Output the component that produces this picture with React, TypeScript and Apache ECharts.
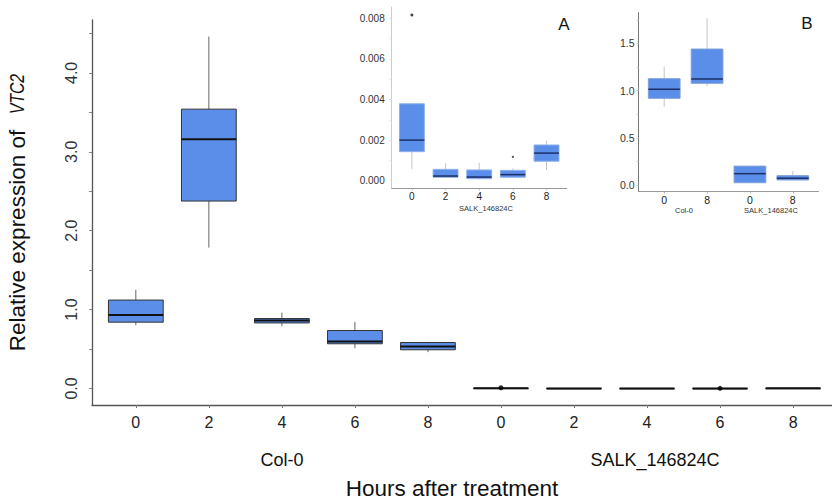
import React, { useEffect, useRef } from "react";
import * as echarts from "echarts";

// ---------- data ----------
const mainHours = ["0", "2", "4", "6", "8", "0", "2", "4", "6", "8"];
const groupLabels = ["Col-0", "SALK_146824C"];
// each box: [lowWhisker, q1, median, q3, highWhisker]
const col0Boxes = [
  [0.8, 0.84, 0.93, 1.12, 1.25],
  [1.785, 2.375, 3.16, 3.54, 4.46],
  [0.79, 0.83, 0.86, 0.886, 0.96],
  [0.51, 0.566, 0.595, 0.734, 0.844],
  [0.46, 0.49, 0.532, 0.582, 0.59],
];
const salkBoxes = [
  [0.00058, 0.00143, 0.002, 0.00379, 0.00379],
  [0.00015, 0.00017, 0.00023, 0.00056, 0.00086],
  [0.00005, 0.0001, 0.00018, 0.00053, 0.00089],
  [0.00015, 0.00017, 0.0003, 0.00051, 0.0006],
  [0.00053, 0.00096, 0.00136, 0.00176, 0.00197],
];
// outliers of SALK: [position within SALK group (0-based), value]
const salkOutliers = [
  [0, 0.00816],
  [3, 0.00117],
];
const insetAHours = ["0", "2", "4", "6", "8"];
const insetBHours = ["0", "8", "0", "8"];
const insetBBoxes = [
  [0.83, 0.918, 1.014, 1.126, 1.253],
  [1.049, 1.077, 1.123, 1.44, 1.766],
  [0.024, 0.024, 0.12, 0.2, 0.2],
  [0.053, 0.053, 0.071, 0.099, 0.148],
];
const mainYLabels = [0, 1, 2, 3, 4];
const mainYTicks = [0, 0.5, 1, 1.5, 2, 2.5, 3, 3.5, 4, 4.5];
const insetAYLabels = [0, 0.002, 0.004, 0.006, 0.008];
const insetAYTicks = [0, 0.001, 0.002, 0.003, 0.004, 0.005, 0.006, 0.007, 0.008];
const insetBYLabels = [0, 0.5, 1, 1.5];
const insetBYTicks = [0, 0.25, 0.5, 0.75, 1, 1.25, 1.5, 1.75];

const FONT = "'Liberation Sans', Arial, sans-serif";
const FILL = "#5b8ee8";

function boxRenderer(opt: any) {
  return (params: any, api: any) => {
    const x = api.value(0);
    const lo = api.coord([x, api.value(1)]);
    const q1 = api.coord([x, api.value(2)]);
    const md = api.coord([x, api.value(3)]);
    const q3 = api.coord([x, api.value(4)]);
    const hi = api.coord([x, api.value(5)]);
    const w = api.size([1, 0])[0] * opt.width;
    const cx = lo[0];
    return {
      type: "group",
      children: [
        { type: "line", shape: { x1: cx, y1: hi[1], x2: cx, y2: q3[1] }, style: { stroke: opt.whisker, lineWidth: 1 } },
        { type: "line", shape: { x1: cx, y1: q1[1], x2: cx, y2: lo[1] }, style: { stroke: opt.whisker, lineWidth: 1 } },
        {
          type: "rect",
          shape: { x: cx - w / 2, y: q3[1], width: w, height: Math.max(q1[1] - q3[1], 0.5) },
          style: { fill: FILL, stroke: opt.border, lineWidth: opt.borderWidth },
        },
        { type: "line", shape: { x1: cx - w / 2, y1: md[1], x2: cx + w / 2, y2: md[1] }, style: { stroke: opt.median, lineWidth: opt.medianWidth } },
      ],
    };
  };
}

export default function App() {
  const ref = useRef<HTMLDivElement>(null);
  useEffect(() => {
    if (!ref.current) return;
    const chart = echarts.init(ref.current, null, { renderer: "svg" });

    const mainData = [...col0Boxes, ...salkBoxes].map((b, i) => [i + 1, ...b]);
    const mainOutliers = salkOutliers.map(([p, v]) => [p + 6, v]);
    const insetAData = salkBoxes.map((b, i) => [i + 1, ...b]);
    const insetAOut = salkOutliers.map(([p, v]) => [p + 1, v]);
    const insetBData = insetBBoxes.map((b, i) => [i + 1, ...b]);

    const mainLeft = 92;
    const mainSpacing = 73.03;
    const mainMaxX = 0.4 + (832 - mainLeft) / mainSpacing;

    const txt = (x: number, y: number, text: string, fontSize: number, fill = "#111") => ({
      type: "text", x, y,
      style: { text, fontSize, fontFamily: FONT, fill, align: "center", verticalAlign: "middle" },
    });

    chart.setOption({
      animation: false,
      textStyle: { fontFamily: FONT },
      grid: [
        { left: mainLeft, top: 20, width: 832 - mainLeft, height: 385 },
        { left: 391.7, top: 7, width: 175, height: 181.3 },
        { left: 638.5, top: 12.7, width: 180, height: 179 },
      ],
      xAxis: [
        {
          type: "value", gridIndex: 0, min: 0.4, max: mainMaxX,
          splitLine: { show: false },
          axisLine: { onZero: false, lineStyle: { color: "#555", width: 1.3 } },
          axisTick: { customValues: mainHours.map((_, i) => i + 1), length: 3, lineStyle: { color: "#777" } },
          axisLabel: {
            customValues: mainHours.map((_, i) => i + 1),
            formatter: (v: number) => mainHours[Math.round(v) - 1] ?? "",
            fontSize: 16, color: "#222", margin: 9, fontFamily: FONT,
          },
        },
        {
          type: "value", gridIndex: 1, min: 0.4, max: 5.6,
          splitLine: { show: false },
          axisLine: { onZero: false, lineStyle: { color: "#999", width: 1 } },
          axisTick: { customValues: insetAHours.map((_, i) => i + 1), length: 2, lineStyle: { color: "#bbb" } },
          axisLabel: {
            customValues: insetAHours.map((_, i) => i + 1),
            formatter: (v: number) => insetAHours[Math.round(v) - 1] ?? "",
            fontSize: 10, color: "#222", margin: 3, fontFamily: FONT,
          },
        },
        {
          type: "value", gridIndex: 2, min: 0.4, max: 4.6,
          splitLine: { show: false },
          axisLine: { onZero: false, lineStyle: { color: "#999", width: 1 } },
          axisTick: { customValues: insetBHours.map((_, i) => i + 1), length: 2, lineStyle: { color: "#bbb" } },
          axisLabel: {
            customValues: insetBHours.map((_, i) => i + 1),
            formatter: (v: number) => insetBHours[Math.round(v) - 1] ?? "",
            fontSize: 10.5, color: "#222", margin: 3, fontFamily: FONT,
          },
        },
      ],
      yAxis: [
        {
          type: "value", gridIndex: 0, min: -0.21, max: 4.67,
          splitLine: { show: false },
          axisLine: { show: true, onZero: false, lineStyle: { color: "#555", width: 1.3 } },
          axisTick: { show: true, customValues: mainYTicks, length: 3, lineStyle: { color: "#888" } },
          axisLabel: {
            customValues: mainYLabels,
            formatter: (v: number) => v.toFixed(1),
            rotate: 90, fontSize: 16, color: "#333", margin: 13, fontFamily: FONT,
          },
        },
        {
          type: "value", gridIndex: 1, min: -0.000374, max: 0.008557,
          splitLine: { show: false },
          axisLine: { show: true, onZero: false, lineStyle: { color: "#ccc", width: 1 } },
          axisTick: { show: true, customValues: insetAYTicks, length: 2, lineStyle: { color: "#ddd" } },
          axisLabel: {
            customValues: insetAYLabels,
            formatter: (v: number) => v.toFixed(3),
            fontSize: 10, color: "#333", margin: 7, fontFamily: FONT,
          },
        },
        {
          type: "value", gridIndex: 2, min: -0.071, max: 1.825,
          splitLine: { show: false },
          axisLine: { show: true, onZero: false, lineStyle: { color: "#777", width: 1 } },
          axisTick: { show: true, customValues: insetBYTicks, length: 2, lineStyle: { color: "#ccc" } },
          axisLabel: {
            customValues: insetBYLabels,
            formatter: (v: number) => v.toFixed(1),
            fontSize: 10.5, color: "#333", margin: 4, fontFamily: FONT,
          },
        },
      ],
      series: [
        {
          type: "custom", xAxisIndex: 0, yAxisIndex: 0,
          renderItem: boxRenderer({ width: 0.75, whisker: "#666", border: "#333", borderWidth: 1, median: "#111", medianWidth: 2 }),
          encode: { x: 0, y: [1, 2, 3, 4, 5] },
          data: mainData, z: 2,
        },
        {
          type: "scatter", xAxisIndex: 0, yAxisIndex: 0, symbolSize: 5,
          itemStyle: { color: "#000" }, data: mainOutliers, z: 5,
        },
        {
          type: "custom", xAxisIndex: 1, yAxisIndex: 1,
          renderItem: boxRenderer({ width: 0.74, whisker: "#c4c4c4", border: "#8fb0ea", borderWidth: 1, median: "#1c2f66", medianWidth: 1.5 }),
          encode: { x: 0, y: [1, 2, 3, 4, 5] },
          data: insetAData, z: 2,
        },
        {
          type: "scatter", xAxisIndex: 1, yAxisIndex: 1,
          symbolSize: (v: number[]) => (v[1] > 0.005 ? 3 : 2),
          itemStyle: { color: "#111" }, data: insetAOut, z: 5,
        },
        {
          type: "custom", xAxisIndex: 2, yAxisIndex: 2,
          renderItem: boxRenderer({ width: 0.74, whisker: "#c4c4c4", border: "#7f9fd8", borderWidth: 1, median: "#1c2f66", medianWidth: 1.5 }),
          encode: { x: 0, y: [1, 2, 3, 4, 5] },
          data: insetBData, z: 2,
        },
      ],
      graphic: [
        {
          type: "text", x: 17, y: 240.5, rotation: Math.PI / 2,
          style: { text: "Relative expression of", fontSize: 22.5, fontFamily: FONT, fill: "#111", align: "center", verticalAlign: "middle" },
        },
        {
          type: "text", x: 17, y: 94, rotation: Math.PI / 2, scaleX: 0.75,
          style: { text: "VTC2", fontSize: 21, fontStyle: "italic", fontFamily: FONT, fill: "#111", align: "center", verticalAlign: "middle" },
        },
        txt(282, 460, groupLabels[0], 18),
        txt(655, 460, groupLabels[1], 18),
        txt(452, 488, "Hours after treatment", 22.5),
        txt(564, 24, "A", 17),
        txt(807, 23, "B", 17),
        txt(486, 208, groupLabels[1], 7.5, "#333"),
        txt(684, 210, groupLabels[0], 7.5, "#333"),
        txt(771, 210, groupLabels[1], 7.5, "#333"),
      ],
    });
    return () => chart.dispose();
  }, []);
  return (
    <div
      ref={ref}
      style={{ position: "fixed", left: 0, top: 0, width: 832, height: 499, background: "#fff" }}
    />
  );
}
